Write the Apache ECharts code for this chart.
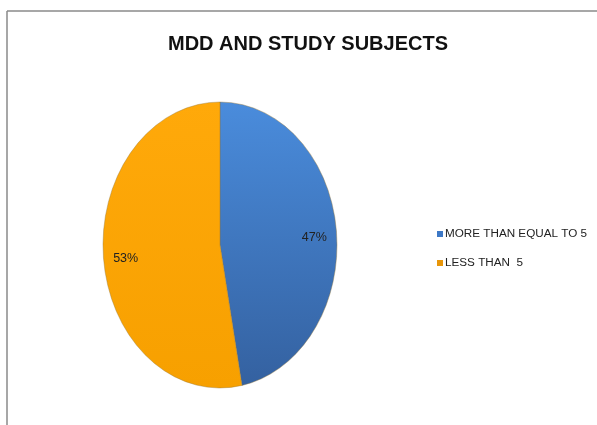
<!DOCTYPE html>
<html>
<head>
<meta charset="utf-8">
<script src="https://cdn.jsdelivr.net/npm/echarts@6/dist/echarts.min.js"></script>
<style>html,body{margin:0;padding:0;background:#fff}#c{width:597px;height:425px}</style>
</head>
<body>
<div id="c"></div>
<script>
var titleText = 'MDD AND STUDY SUBJECTS';
var categories = ['MORE THAN EQUAL TO 5', 'LESS THAN  5'];
var values = [47, 53];
var labels = ['47%', '53%'];

var colorsTop = ['#4a8cdc', '#ffa90a'];
var colorsBottom = ['#3461a0', '#f7a000'];
var legendColors = ['#3d78c6', '#e8960a'];

var CX = 220, CY = 245, RX = 117, RY = 143;
var total = values.reduce(function (a, b) { return a + b; }, 0);

var chart = echarts.init(document.getElementById('c'), null, { renderer: 'canvas' });

function renderItem(params, api) {
  var i = params.dataIndex;
  var before = 0;
  for (var k = 0; k < i; k++) before += values[k];
  var v = api.value(0);
  var a0 = -Math.PI / 2 + before / total * Math.PI * 2;
  var a1 = a0 + v / total * Math.PI * 2;
  var mid = (a0 + a1) / 2;
  var lr = 0.81;
  return {
    type: 'group',
    children: [
      {
        type: 'sector',
        x: CX, y: CY,
        scaleX: RX / RY, scaleY: 1,
        shape: { cx: 0, cy: 0, r0: 0, r: RY, startAngle: a0, endAngle: a1, clockwise: true },
        style: {
          fill: new echarts.graphic.LinearGradient(0, 0, 0, 1, [
            { offset: 0, color: colorsTop[i] },
            { offset: 1, color: colorsBottom[i] }
          ]),
          stroke: 'rgba(150,120,60,0.45)',
          lineWidth: 1,
          strokeNoScale: true
        }
      },
      {
        type: 'text',
        x: CX + Math.cos(mid) * RX * lr,
        y: CY + Math.sin(mid) * RY * lr + 3,
        style: {
          text: labels[i],
          fill: '#222',
          font: '12.5px "Liberation Sans"',
          align: 'center',
          verticalAlign: 'middle'
        }
      }
    ]
  };
}

var option = {
  animation: false,
  backgroundColor: '#fff',
  title: {
    text: titleText,
    left: 303,
    top: 29,
    textAlign: 'center',
    textStyle: { fontFamily: 'Liberation Sans', fontSize: 20, fontWeight: 'bold', color: '#111' }
  },
  legend: {
    orient: 'vertical',
    left: 432,
    top: 223,
    itemWidth: 6,
    itemHeight: 6,
    itemGap: 17,
    icon: 'rect',
    selectedMode: false,
    data: categories,
    textStyle: { fontFamily: 'Liberation Sans', fontSize: 11.7, color: '#222', padding: [0, 0, 0, -3] }
  },
  graphic: [
    { type: 'line', shape: { x1: 7, y1: 11, x2: 597, y2: 11 }, style: { stroke: '#8a8a8a', lineWidth: 1.5 } },
    { type: 'line', shape: { x1: 7, y1: 11, x2: 7, y2: 425 }, style: { stroke: '#8a8a8a', lineWidth: 1.5 } }
  ],
  series: [
    {
      type: 'custom',
      coordinateSystem: 'none',
      silent: true,
      renderItem: renderItem,
      data: values.map(function (v, i) { return { name: categories[i], value: [v] }; })
    },
    {
      type: 'pie',
      radius: [0, 0],
      silent: true,
      label: { show: false },
      labelLine: { show: false },
      data: values.map(function (v, i) { return { name: categories[i], value: v, itemStyle: { color: legendColors[i] } }; })
    }
  ]
};
chart.setOption(option);
</script>
</body>
</html>
